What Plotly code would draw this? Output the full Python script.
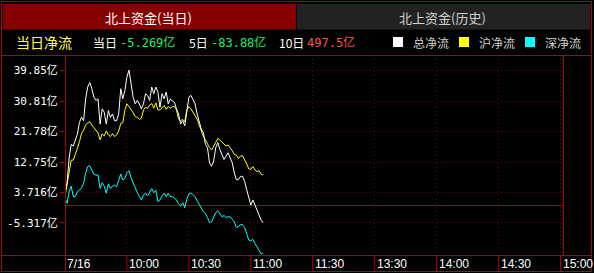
import plotly.graph_objects as go

# ---------------- data ----------------
start_time = "09:30"
total_flow = [4.5, 6.5, 14.0, 18.0, 17.5, 19.0, 21.0, 24.5, 26.0, 25.0,
              31.5, 35.0, 36.3, 34.5, 32.0, 31.0, 31.5, 24.0, 28.5, 27.5,
              24.0, 28.0, 26.0, 27.0, 25.0, 25.0, 27.0, 34.5, 31.5, 34.0,
              38.0, 40.0, 35.5, 32.0, 30.0, 31.0, 30.0, 28.5, 30.0, 33.0,
              32.5, 31.0, 35.0, 33.0, 35.0, 33.5, 29.0, 33.0, 31.5, 33.5,
              30.0, 31.5, 30.8, 30.5, 28.5, 27.0, 24.0, 25.0, 23.5, 28.0,
              32.0, 32.5, 31.0, 30.0, 27.0, 24.5, 22.5, 21.5, 18.0, 17.0,
              12.5, 11.5, 13.0, 17.0, 18.5, 16.5, 15.0, 13.5, 14.5, 15.5,
              14.0, 12.5, 9.5, 7.5, 7.5, 8.5, 8.5, 7.0, 4.5, 2.0,
              0.0, 1.5, 0.0, -1.5, -3.0, -4.5, -5.27]
sh_flow = [2.5, 6.0, 10.4, 13.3, 13.3, 14.8, 16.8, 18.8, 21.2, 22.2,
           23.7, 24.4, 24.7, 23.7, 22.9, 22.0, 21.4, 19.3, 21.1, 20.5,
           22.0, 20.8, 20.3, 21.2, 20.3, 20.8, 21.9, 24.2, 24.4, 28.2,
           30.0, 29.2, 28.4, 27.4, 26.2, 26.0, 25.4, 25.7, 28.2, 29.0,
           28.7, 29.6, 30.1, 28.7, 30.3, 28.2, 28.2, 28.9, 29.5, 28.4,
           29.2, 28.7, 29.2, 29.2, 28.2, 25.5, 25.0, 25.4, 24.7, 28.2,
           29.2, 28.5, 27.4, 26.7, 25.5, 23.7, 21.9, 20.3, 19.3, 18.0,
           17.0, 16.3, 17.5, 18.5, 19.7, 19.3, 18.7, 18.3, 17.5, 17.8,
           17.1, 16.1, 15.0, 14.8, 13.8, 14.5, 14.6, 13.5, 12.2, 10.7,
           10.6, 11.4, 10.4, 9.9, 10.2, 9.1, 8.9]
sz_flow = [2.0, 0.5, 4.0, 5.6, 2.5, 2.5, 4.0, 4.4, 5.1, 6.4,
           9.4, 11.4, 11.6, 10.2, 9.1, 8.9, 8.9, 4.9, 6.6, 5.6,
           3.5, 6.2, 4.9, 5.6, 5.9, 5.4, 7.2, 9.2, 7.4, 7.9,
           9.6, 10.2, 8.1, 6.6, 4.7, 3.7, 2.5, 1.5, 3.0, 3.5,
           2.7, 3.8, 4.9, 3.6, 4.4, 1.0, 1.5, 2.7, 3.5, 2.5,
           3.5, 2.5, 2.5, 2.0, 1.5, 0.3, -0.3, 0.7, -0.8, 1.7,
           3.3, 3.6, 3.1, 2.5, 1.3, 0.0, -0.9, -2.0, -2.5, -3.7,
           -5.2, -5.0, -3.5, -2.3, -1.7, -2.5, -3.5, -3.1, -3.7, -3.5,
           -3.5, -4.2, -5.0, -6.7, -6.4, -5.8, -5.8, -6.7, -8.4, -10.4,
           -10.6, -10.2, -11.4, -12.4, -13.6, -14.5, -14.2]

x_tick_times = ["09:30", "10:00", "10:30", "11:00", "11:30", "13:30", "14:00", "14:30", "15:00"]
x_tick_labels = ["7/16", "10:00", "10:30", "11:00", "11:30", "13:30", "14:00", "14:30", "15:00"]
y_tick_vals = [-5.317, 3.716, 12.75, 21.78, 30.81, 39.85]
y_tick_labels = ["-5.317亿", "3.716亿", "12.75亿", "21.78亿", "30.81亿", "39.85亿"]

header_today = "-5.269亿"
header_5d = "-83.88亿"
header_10d = "497.5亿"

# ---------------- helpers ----------------
def to_trade_min(s):
    h, m = map(int, s.split(":"))
    mm = h * 60 + m
    if mm <= 11 * 60 + 30:
        return mm - (9 * 60 + 30)
    return 120 + mm - 13 * 60

def minute_label(i):
    h, m = map(int, start_time.split(":"))
    tot = h * 60 + m + i
    return f"{tot // 60:02d}:{tot % 60:02d}"

times = [minute_label(i) for i in range(len(total_flow))]
xs = [to_trade_min(t) for t in times]
tick_x = [to_trade_min(t) for t in x_tick_times]

W, H = 594, 273
L, R, T, B = 65, 563, 55, 255

def px(x):
    return (x - L) / (R - L)

def py(y):
    return (B - y) / (B - T)

RED = "#B00000"
DOT = "#7A0000"
CJK = "Noto Sans CJK SC"
MONO = "DejaVu Sans Mono, Noto Sans CJK SC"

fig = go.Figure()
for vals, col in [(sh_flow, "#FFFF00"), (sz_flow, "#00FFFF"), (total_flow, "#FFFFFF")]:
    fig.add_trace(go.Scatter(x=xs, y=vals, mode="lines",
                             line=dict(color=col, width=1), hoverinfo="skip"))

shapes = []
def line(x0, y0, x1, y1, color=RED, xref="paper", yref="paper"):
    shapes.append(dict(type="line", xref=xref, yref=yref, x0=x0, y0=y0, x1=x1, y1=y1,
                       line=dict(color=color, width=1), layer="above"))

def rect(x0, y0, x1, y1, fill):
    shapes.append(dict(type="rect", xref="paper", yref="paper",
                       x0=px(x0), y0=py(y0), x1=px(x1), y1=py(y1),
                       fillcolor=fill, line=dict(width=0), layer="below"))

# tabs
rect(3, 4, 296, 29.5, "#860000")
rect(297, 4, 590.5, 29.5, "#222222")
# outer border
shapes.append(dict(type="rect", xref="paper", yref="paper",
                   x0=px(1.5), y0=py(1.5), x1=px(591.5), y1=py(271.5),
                   line=dict(color=RED, width=1), layer="above"))
# header / footer separators
line(px(1.5), py(55.5), px(591.5), py(55.5))
line(px(1.5), py(255.5), px(591.5), py(255.5))
# plot left & right border
line(px(65.5), py(55.5), px(65.5), py(271.5))
line(px(563.5), py(55.5), px(563.5), py(255.5))
# bottom row separators
for t in tick_x[1:]:
    line(t, py(255.5), t, py(271.5), xref="x")

# legend squares
rect(393, 37, 403, 47, "#FFFFFF")
rect(459, 37, 469, 47, "#FFFF00")
rect(525, 37, 535, 47, "#00FFFF")

annotations = []
def text(x, y, s, color, size, family=CJK, anchor="left"):
    annotations.append(dict(xref="paper", yref="paper", x=px(x), y=py(y), text=s,
                            showarrow=False, xanchor=anchor, yanchor="middle",
                            font=dict(color=color, size=size, family=family)))

text(148, 17, "北上资金(当日)", "#FFFFFF", 13, anchor="center")
text(442, 17, "北上资金(历史)", "#D0D0D0", 13, anchor="center")
text(14, 42, "当日净流", "#FFFF50", 14)
text(91, 42, "当日", "#FFFFFF", 12)
text(118, 42, header_today, "#22EE66", 12, MONO)
text(187, 42, "5日", "#FFFFFF", 12)
text(209, 42, header_5d, "#22EE66", 12, MONO)
text(277, 42, "10日", "#FFFFFF", 12)
text(305, 42, header_10d, "#FF5050", 12, MONO)
text(411, 42, "总净流", "#D0D0D0", 12)
text(477, 42, "沪净流", "#D0D0D0", 12)
text(543, 42, "深净流", "#D0D0D0", 12)

for t, lab in zip(tick_x, x_tick_labels):
    annotations.append(dict(xref="x", yref="paper", x=t, y=py(263.5), text=lab,
                            showarrow=False, xanchor="left", yanchor="middle", xshift=0,
                            font=dict(color="#FFFFFF", size=12, family="Arial, Liberation Sans")))

y_lo = (205 - 255) * 0.2966
y_hi = (205 - 55) * 0.2966

fig.update_layout(
    width=W, height=H,
    margin=dict(l=L, r=W - R, t=T, b=H - B, pad=0, autoexpand=False),
    paper_bgcolor="#000000", plot_bgcolor="#000000",
    showlegend=False,
    shapes=shapes, annotations=annotations,
    xaxis=dict(range=[0, 241.2], tickvals=tick_x[1:], showticklabels=False,
               showgrid=True, gridcolor=DOT, griddash="1px,3px", gridwidth=1,
               zeroline=False, showline=False, ticks="", fixedrange=True,
               automargin=False),
    yaxis=dict(range=[y_lo, y_hi], tickvals=y_tick_vals, ticktext=y_tick_labels,
               showgrid=True, gridcolor=DOT, griddash="1px,3px", gridwidth=1,
               zeroline=True, zerolinecolor=RED, zerolinewidth=1,
               showline=False, ticks="outside", ticklen=4, tickcolor=RED,
               tickfont=dict(color="#FFFFFF", size=11, family=MONO), fixedrange=True,
               automargin=False),
)

fig.write_html("out.html", config={"displayModeBar": False})
